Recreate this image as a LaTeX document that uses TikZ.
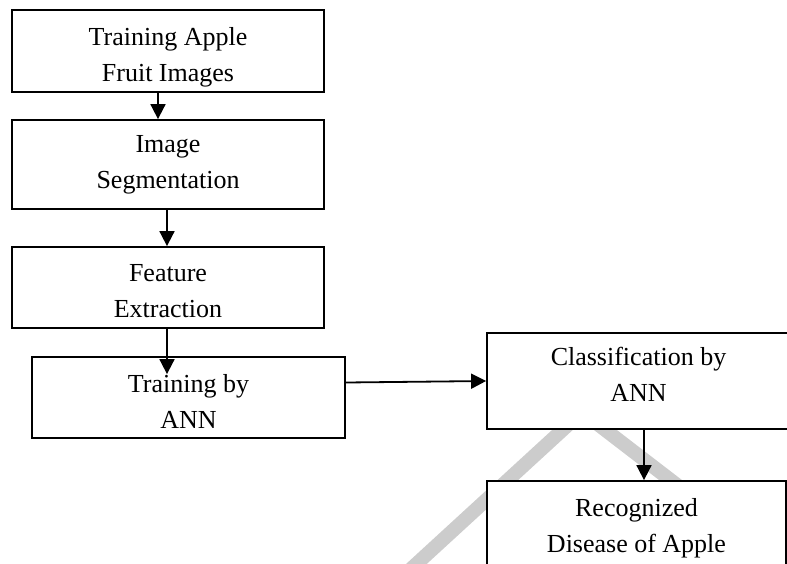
\documentclass[tikz,border=0pt]{standalone}
\usepackage{fontspec}
\setmainfont{Liberation Serif}
\usetikzlibrary{arrows.meta}
\begin{document}
\begin{tikzpicture}[x=1pt,y=-1pt]
      \tikzstyle{box} = [draw,line width=1.8pt,fill=white,align=center,inner sep=0pt,
        font=\fontsize{26}{36}\selectfont];
      \tikzstyle{arr} = [line width=1.8pt,-{Triangle[length=15pt,width=15pt]}];
      \tikzstyle{wmark} = [line width=14pt,black!20];
      \useasboundingbox (0,0) rectangle (787,563);
      \draw [wmark] (400,579) -- (582,412) -- (690,495);
      \node [box,minimum width=312,minimum height=82] (images) at (168,51) {\rule{0pt}{30pt}Training Apple\\Fruit Images};
      \node [box,minimum width=312,minimum height=89] (segment) at (168,164.5) {Image\\Segmentation};
      \node [box,minimum width=312,minimum height=81] (feature) at (168,287.5) {\rule{0pt}{25pt}Feature\\Extraction};
      \node [box,minimum width=313,minimum height=81] (train) at (188.5,397.5) {\rule{0pt}{25pt}Training by\\ANN};
      \node [box,minimum width=303,minimum height=96] (classify) at (638.5,381) {Classification by\\ANN\rule[-14pt]{0pt}{14pt}};
      \node [box,minimum width=299,minimum height=94] (disease) at (636.5,528) {Recognized\\Disease of Apple};
      \draw [arr] ([xshift=-10pt]images.south) -- ([xshift=-10pt]images.south |- segment.north);
      \draw [arr] ([xshift=-1pt]segment.south) -- ([xshift=-1pt]segment.south |- feature.north);
      \draw [arr] ([xshift=-1pt]feature.south) -- ([xshift=-1pt,yshift=-18pt]feature.south |- train.north);
      \draw [arr] ([yshift=15pt]train.east) -- (classify.west);
      \draw [arr] ([xshift=5.5pt]classify.south) -- ([xshift=5.5pt]classify.south |- disease.north);
    \end{tikzpicture}
\end{document}
